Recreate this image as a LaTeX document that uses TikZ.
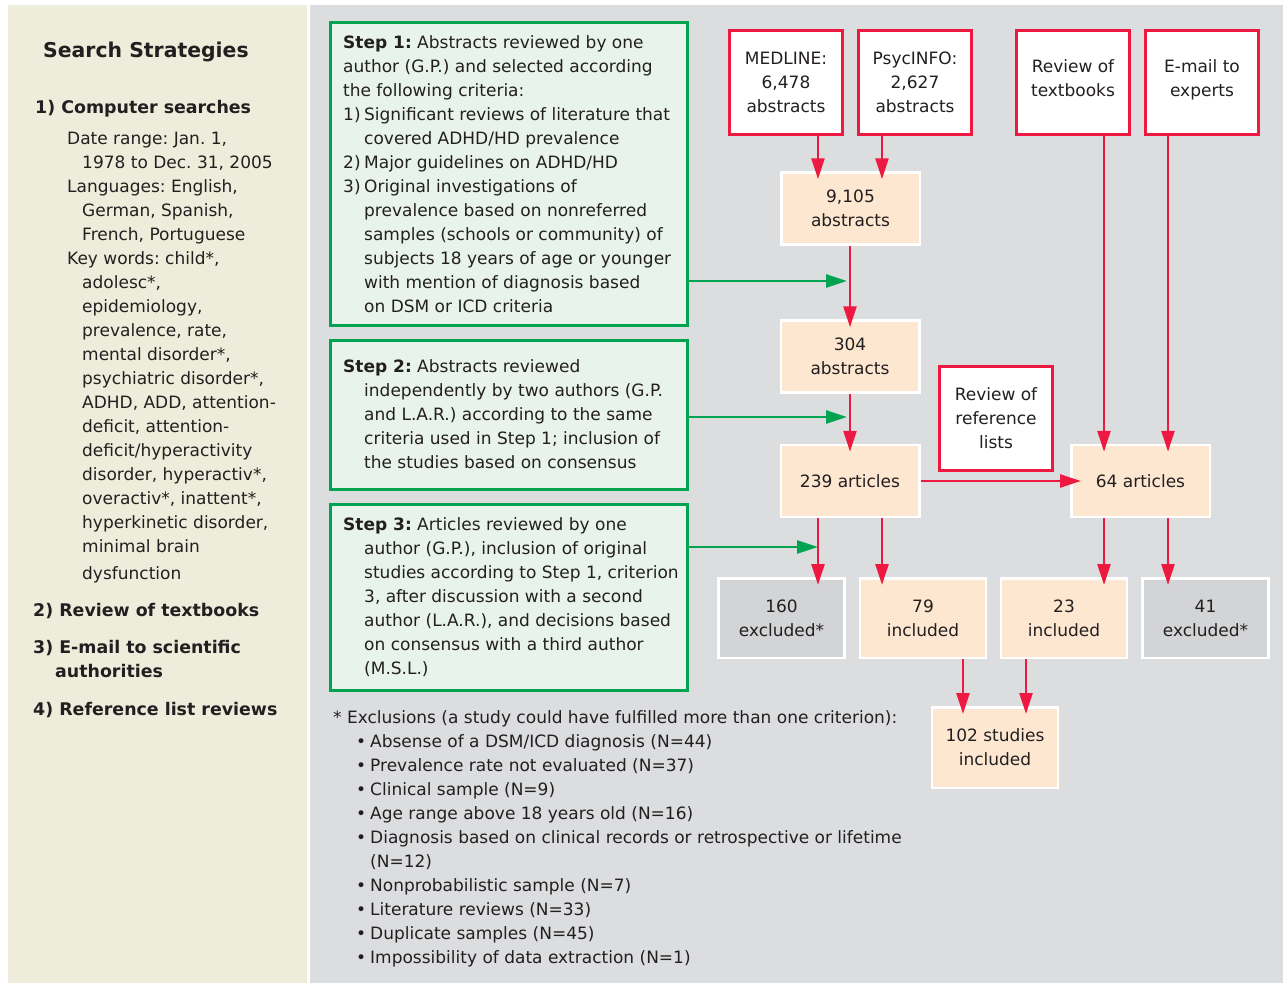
\documentclass[tikz,border=0pt]{standalone}
\usepackage{fontspec}
\setmainfont{DejaVu Sans}
\usetikzlibrary{arrows.meta}
\frenchspacing
\definecolor{beigec}{RGB}{238,236,218}
\definecolor{panelc}{RGB}{220,221,223}
\definecolor{greenc}{RGB}{0,163,80}
\definecolor{greenfill}{RGB}{232,243,236}
\definecolor{redc}{RGB}{237,25,65}
\definecolor{peachc}{RGB}{253,231,209}
\definecolor{exgray}{RGB}{211,212,214}
\definecolor{txt}{RGB}{35,31,32}
\newcommand{\fs}{\fontsize{17}{24}\selectfont\frenchspacing}
\newcommand{\st}{\rule{0pt}{18pt}}
\newcommand{\ind}{\hspace*{21pt}}
\newcommand{\lind}{\hspace*{15pt}}
\newcommand{\bul}{\hspace*{23pt}\makebox[14pt][l]{\textbullet}}
\newcommand{\mydepth}{\rule[-8pt]{0pt}{8pt}}
\begin{document}
\begin{tikzpicture}[x=1pt,y=-1pt,
  redbox/.style={draw=redc, line width=3pt, fill=white, minimum width=113pt, minimum height=104pt, inner sep=0pt, align=center, font=\fs, text=txt},
  peachbox/.style={draw=white, line width=2.5pt, fill=peachc, minimum width=138.5pt, minimum height=72pt, inner sep=0pt, align=center, font=\fs, text=txt},
  resbox/.style={draw=white, line width=2.5pt, fill=peachc, minimum width=126pt, minimum height=79.5pt, inner sep=0pt, align=center, font=\fs, text=txt},
  exbox/.style={resbox, fill=exgray},
  stepbox/.style={draw=greenc, line width=3pt, fill=greenfill, inner sep=0pt, minimum width=357pt},
  txtblk/.style={anchor=north west, inner sep=0pt, align=left, font=\fs, text=txt},
  headtxt/.style={anchor=base west, inner sep=0pt, font=\fontsize{17.4}{24}\selectfont\bfseries, text=txt},
  redarr/.style={draw=redc, line width=2.6pt, -{Triangle[length=21pt,width=13pt]}},
  greenarr/.style={draw=greenc, line width=2.6pt, -{Triangle[length=21pt,width=13pt]}}
]
\useasboundingbox (0,0) rectangle (1283,983);
\fill[white] (0,0) rectangle (1283,983);
\fill[beigec] (8,5) rectangle (307,983);
\fill[panelc] (310,5) rectangle (1283,983);

% left panel
\node[anchor=base west, inner sep=0pt, font=\fontsize{20.4}{26}\selectfont\bfseries, text=txt] (title) at (43,57) {Search Strategies};
\node[headtxt] (h1) at (35,113) {1) Computer searches};
\node[txtblk] (body) at (67,126) {\st Date range: Jan. 1,\\
\lind 1978 to Dec. 31, 2005\\
Languages: English,\\
\lind German, Spanish,\\
\lind French, Portuguese\\
Key words: child*,\\
\lind adolesc*,\\
\lind epidemiology,\\
\lind prevalence, rate,\\
\lind mental disorder*,\\
\lind psychiatric disorder*,\\
\lind ADHD, ADD, attention-\\
\lind deficit, attention-\\
\lind deficit/hyperactivity\\
\lind disorder, hyperactiv*,\\
\lind overactiv*, inattent*,\\
\lind hyperkinetic disorder,\\
\lind minimal brain\\[3pt]
\lind dysfunction};
\node[headtxt] (h2) at (33,616) {2) Review of textbooks};
\node[txtblk, font=\fontsize{17.4}{24}\selectfont\bfseries] (h3) at (33,635) {\st 3) E-mail to scientific\\\hspace*{22pt}authorities};
\node[headtxt] (h4) at (33,715) {4) Reference list reviews};

% step boxes
\node[stepbox, minimum height=303pt] (s1) at (509,174) {};
\node[stepbox, minimum height=149pt] (s2) at (509,415) {};
\node[stepbox, minimum height=186pt] (s3) at (509,597.5) {};
\node[txtblk] (s1t) at (343,30) {\st\textbf{Step 1:} Abstracts reviewed by one\\
author (G.P.) and selected according\\
the following criteria:\\
\makebox[21pt][l]{1)}Significant reviews of literature that\\
\ind covered ADHD/HD prevalence\\
\makebox[21pt][l]{2)}Major guidelines on ADHD/HD\\
\makebox[21pt][l]{3)}Original investigations of\\
\ind prevalence based on nonreferred\\
\ind samples (schools or community) of\\
\ind subjects 18 years of age or younger\\
\ind with mention of diagnosis based\\
\ind on DSM or ICD criteria};
\node[txtblk] (s2t) at (343,354) {\st\textbf{Step 2:} Abstracts reviewed\\
\ind independently by two authors (G.P.\\
\ind and L.A.R.) according to the same\\
\ind criteria used in Step 1; inclusion of\\
\ind the studies based on consensus};
\node[txtblk] (s3t) at (343,512) {\st\textbf{Step 3:} Articles reviewed by one\\
\ind author (G.P.), inclusion of original\\
\ind studies according to Step 1, criterion\\
\ind 3, after discussion with a second\\
\ind author (L.A.R.), and decisions based\\
\ind on consensus with a third author\\
\ind (M.S.L.)};

% footnote
\node[txtblk] (foot) at (333,705) {\st* Exclusions (a study could have fulfilled more than one criterion):\\
\bul Absense of a DSM/ICD diagnosis (N=44)\\
\bul Prevalence rate not evaluated (N=37)\\
\bul Clinical sample (N=9)\\
\bul Age range above 18 years old (N=16)\\
\bul Diagnosis based on clinical records or retrospective or lifetime\\
\hspace*{37pt}(N=12)\\
\bul Nonprobabilistic sample (N=7)\\
\bul Literature reviews (N=33)\\
\bul Duplicate samples (N=45)\\
\bul Impossibility of data extraction (N=1)};

% source boxes
\node[redbox] (medline) at (786,82.5) {MEDLINE:\\6,478\\abstracts};
\node[redbox] (psyc) at (915,82.5) {PsycINFO:\\2,627\\abstracts};
\node[redbox] (textb) at (1073,82.5) {Review of\\textbooks\mydepth};
\node[redbox] (email) at (1202,82.5) {E-mail to\\experts\mydepth};
\node[redbox] (reflists) at (996,418.5) {Review of\\reference\\lists};

% flow boxes
\node[peachbox] (a9105) at (850.5,208.5) {9,105\\abstracts};
\node[peachbox] (a304) at (850,356.5) {304\\abstracts};
\node[peachbox] (a239) at (850,481) {239 articles};
\node[peachbox] (a64) at (1140.5,481) {64 articles};
\node[exbox] (x160) at (781.5,618) {160\\excluded*};
\node[resbox] (i79) at (923,618) {79\\included};
\node[resbox] (i23) at (1064,618) {23\\included};
\node[exbox] (x41) at (1205.5,618) {41\\excluded*};
\node[resbox, minimum height=80.5pt] (s102) at (995,747.5) {102 studies\\included};

% columns
\coordinate (c818) at (818,0);
\coordinate (c882) at (882,0);
\coordinate (c850) at (850,0);
\coordinate (c1104) at (1104,0);
\coordinate (c1168) at (1168,0);
\coordinate (c963) at (963,0);
\coordinate (c1026) at (1026,0);

% red arrows
\draw[redarr, shorten >=-8pt] (medline.south -| c818) -- (a9105.north -| c818);
\draw[redarr, shorten >=-8pt] (psyc.south -| c882) -- (a9105.north -| c882);
\draw[redarr, shorten >=-8pt] (a9105.south -| c850) -- (a304.north -| c850);
\draw[redarr, shorten >=-8pt] (a304.south -| c850) -- (a239.north -| c850);
\draw[redarr, shorten >=-8pt] (a239.south -| c818) -- (x160.north -| c818);
\draw[redarr, shorten >=-8pt] (a239.south -| c882) -- (i79.north -| c882);
\draw[redarr, shorten >=-8pt] (textb.south -| c1104) -- (a64.north -| c1104);
\draw[redarr, shorten >=-8pt] (email.south -| c1168) -- (a64.north -| c1168);
\draw[redarr, shorten >=-8pt] (a64.south -| c1104) -- (i23.north -| c1104);
\draw[redarr, shorten >=-8pt] (a64.south -| c1168) -- (x41.north -| c1168);
\draw[redarr, shorten >=-8pt] (i79.south -| c963) -- (s102.north -| c963);
\draw[redarr, shorten >=-8pt] (i23.south -| c1026) -- (s102.north -| c1026);
\draw[redarr, shorten >=-11pt] (a239.east) -- (a64.west);

% green arrows
\coordinate (g1) at (847,281);
\coordinate (g2) at (847,417);
\coordinate (g3) at (818,547);
\draw[greenarr] (s1.east |- g1) -- (g1);
\draw[greenarr] (s2.east |- g2) -- (g2);
\draw[greenarr] (s3.east |- g3) -- (g3);
\end{tikzpicture}
\end{document}
